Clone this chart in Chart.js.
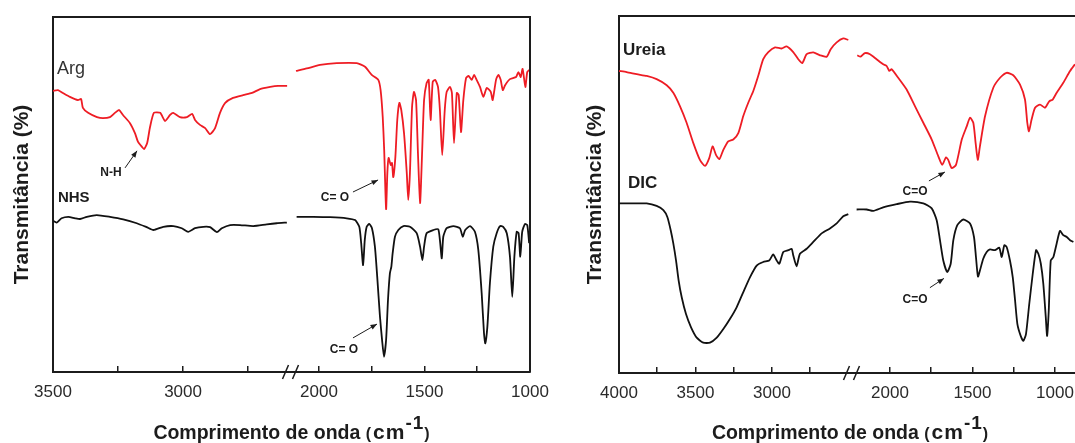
<!DOCTYPE html>
<html lang="pt">
<head>
<meta charset="utf-8">
<script src="https://cdn.jsdelivr.net/npm/chart.js@4.4.0/dist/chart.umd.min.js"></script>
<style>
  html, body { margin: 0; padding: 0; background: #fff; }
  body { width: 1075px; height: 443px; position: relative; overflow: hidden; }
  canvas { position: absolute; top: 0; }
  #grafico-esq { left: 0; }
  #grafico-dir { left: 560px; }
</style>
</head>
<body>
<canvas id="grafico-esq" width="560" height="443"></canvas>
<canvas id="grafico-dir" width="515" height="443"></canvas>
<script>
// --- ESPECTROS FTIR (número de onda em cm-1, transmitância relativa) ---
const argOnda = [3500, 3481, 3462, 3435, 3404, 3392, 3385, 3365, 3331, 3308, 3281, 3262, 3246, 3231, 3204, 3185, 3173, 3158, 3150, 3138, 3127, 3112, 3088, 3069, 3050, 3038, 3012, 2985, 2965, 2954, 2935, 2915, 2896, 2877, 2858, 2838, 2808, 2769, 2735, 2704, 2665, 2635, 2600,
  2109, 2058, 1995, 1916, 1821, 1782, 1750, 1719, 1708, 1698, 1691, 1682, 1676, 1670, 1660, 1654, 1648, 1638, 1629, 1619, 1610, 1597, 1584, 1577, 1569, 1559, 1550, 1540, 1531, 1521, 1512, 1502, 1490, 1480, 1471, 1461, 1449, 1436, 1427, 1416, 1404, 1395, 1379, 1370, 1360, 1347, 1338, 1327, 1316, 1303, 1291, 1276, 1265, 1253, 1237, 1221, 1205, 1186, 1177, 1161, 1150, 1139, 1129, 1118, 1095, 1066, 1055, 1044, 1035, 1022, 1013, 1003];
const argTrans = [79.2, 79.4, 78.6, 77.5, 76.6, 76.9, 74.4, 73.0, 71.8, 71.5, 71.8, 73.0, 73.8, 72.4, 70.1, 67.3, 64.8, 63.4, 62.8, 64.5, 69.0, 73.0, 73.0, 70.7, 72.4, 73.0, 71.8, 71.8, 72.7, 71.0, 69.6, 68.7, 67.0, 68.7, 73.0, 75.8, 77.2, 78.0, 78.6, 79.7, 80.3, 80.6, 80.6,
  84.8, 85.5, 86.5, 87.0, 87.0, 86.0, 83.7, 82.3, 79.4, 71.9, 62.5, 45.9, 56.1, 60.3, 58.3, 58.9, 54.9, 60.6, 71.0, 75.8, 73.8, 67.3, 56.1, 48.5, 56.1, 74.6, 78.9, 76.6, 61.7, 47.6, 60.6, 76.6, 81.4, 82.3, 71.0, 81.7, 82.3, 80.3, 73.8, 61.1, 73.8, 78.9, 80.3, 78.6, 64.5, 78.6, 78.0, 67.6, 76.6, 82.8, 83.4, 82.3, 83.7, 82.3, 80.3, 77.5, 80.0, 78.9, 76.6, 82.3, 83.7, 82.3, 79.4, 80.8, 82.5, 83.1, 84.5, 83.1, 85.4, 80.3, 84.5, 85.1];

const nhsOnda = [3500, 3486, 3467, 3441, 3415, 3396, 3370, 3332, 3281, 3230, 3178, 3140, 3114, 3076, 3037, 3005, 2980, 2954, 2922, 2896, 2870, 2851, 2819, 2781, 2730, 2678, 2640, 2601,
  2106, 2027, 1948, 1869, 1829, 1809, 1800, 1791, 1783, 1774, 1762, 1749, 1735, 1724, 1711, 1701, 1692, 1682, 1673, 1664, 1657, 1651, 1640, 1624, 1600, 1569, 1537, 1521, 1510, 1502, 1490, 1458, 1435, 1427, 1418, 1411, 1395, 1363, 1332, 1319, 1307, 1284, 1261, 1245, 1229, 1218, 1212, 1202, 1190, 1174, 1158, 1142, 1127, 1110, 1095, 1084, 1074, 1063, 1054, 1046, 1037, 1024, 1013, 1004];
const nhsTrans = [42.6, 42.1, 43.3, 43.7, 43.3, 43.1, 43.7, 44.2, 43.7, 43.0, 41.9, 40.8, 40.0, 40.9, 41.1, 40.5, 39.5, 40.5, 40.9, 40.8, 39.4, 40.5, 41.4, 41.4, 41.1, 41.6, 41.9, 42.1,
  43.7, 43.7, 43.6, 43.3, 42.8, 40.9, 36.3, 30.1, 37.2, 40.9, 41.7, 40.5, 35.3, 26.8, 15.6, 9.0, 4.3, 9.0, 20.3, 27.8, 29.7, 33.4, 38.1, 40.0, 41.1, 40.9, 39.1, 35.3, 31.5, 35.3, 39.1, 40.0, 40.2, 37.2, 32.0, 38.1, 40.5, 41.1, 40.5, 38.1, 40.0, 41.1, 39.5, 34.4, 22.2, 10.9, 8.1, 12.8, 25.0, 35.3, 39.1, 41.1, 40.9, 39.1, 32.5, 21.2, 32.5, 39.5, 39.1, 32.5, 39.5, 41.7, 41.4, 36.3];

const ureiaOnda = [4000, 3950, 3884, 3819, 3754, 3688, 3645, 3601, 3558, 3514, 3471, 3438, 3410, 3388, 3366, 3344, 3318, 3286, 3253, 3220, 3188, 3155, 3122, 3090, 3057, 3024, 2980, 2937, 2904, 2861, 2828, 2802, 2773, 2730, 2686, 2642, 2616, 2577, 2534, 2501,
  2198, 2178, 2152, 2121, 2081, 2041, 2020, 2004, 1990, 1950, 1899, 1848, 1798, 1747, 1707, 1683, 1661, 1647, 1626, 1600, 1565, 1535, 1515, 1495, 1481, 1468, 1455, 1424, 1374, 1333, 1293, 1253, 1212, 1182, 1168, 1158, 1142, 1121, 1091, 1061, 1035, 1014, 990, 950, 909, 879];
const ureiaTrans = [84.6, 84.3, 83.7, 83.2, 82.3, 80.6, 78.5, 74.7, 70.1, 64.4, 59.7, 58.0, 60.2, 63.5, 61.1, 59.9, 62.5, 64.9, 65.4, 67.2, 71.9, 75.7, 79.0, 83.2, 87.9, 89.9, 91.2, 90.9, 91.5, 89.9, 87.9, 86.8, 89.3, 89.8, 89.0, 88.6, 90.7, 92.6, 93.7, 93.3,
  89.0, 88.6, 89.6, 89.3, 87.9, 86.5, 86.0, 84.6, 85.1, 82.7, 79.4, 74.7, 70.1, 65.4, 60.7, 58.3, 60.4, 59.7, 57.4, 58.3, 65.4, 69.1, 71.5, 70.1, 64.4, 59.7, 63.5, 71.9, 79.9, 82.7, 84.1, 83.4, 80.8, 76.6, 70.1, 67.7, 71.0, 74.3, 75.2, 74.3, 76.1, 76.6, 78.5, 81.3, 84.6, 86.5];

const dicOnda = [4000, 3907, 3819, 3754, 3710, 3684, 3662, 3645, 3627, 3610, 3590, 3562, 3529, 3492, 3449, 3405, 3361, 3318, 3275, 3231, 3188, 3144, 3100, 3057, 3018, 2992, 2969, 2952, 2926, 2893, 2871, 2861, 2839, 2817, 2773, 2730, 2675, 2621, 2577, 2534, 2501,
  2202, 2141, 2101, 2041, 1959, 1879, 1798, 1747, 1717, 1697, 1677, 1653, 1632, 1616, 1592, 1556, 1515, 1491, 1479, 1467, 1455, 1435, 1414, 1394, 1364, 1338, 1323, 1307, 1293, 1273, 1256, 1242, 1228, 1208, 1192, 1176, 1156, 1135, 1115, 1101, 1086, 1071, 1056, 1048, 1038, 1026, 1010, 990, 970, 950, 929, 909, 889];
const dicTrans = [47.5, 47.5, 47.5, 46.8, 45.6, 43.7, 40.0, 36.3, 31.5, 25.9, 21.2, 16.5, 12.8, 9.9, 8.5, 8.5, 9.9, 12.3, 15.1, 18.4, 22.6, 26.8, 30.1, 31.1, 31.5, 33.2, 31.5, 30.6, 33.9, 34.4, 34.8, 33.0, 29.9, 33.4, 34.8, 36.7, 39.1, 40.5, 41.9, 43.9, 44.5,
  45.8, 45.8, 45.4, 46.4, 47.3, 48.0, 47.5, 46.1, 42.8, 37.2, 31.5, 28.3, 30.6, 37.2, 41.4, 43.0, 41.9, 38.1, 32.5, 27.0, 28.7, 32.0, 33.9, 34.6, 34.4, 35.1, 32.5, 35.8, 35.3, 31.5, 26.8, 20.3, 13.7, 10.4, 9.0, 10.9, 19.4, 27.8, 34.4, 33.4, 30.6, 25.0, 15.6, 10.4, 17.5, 31.5, 32.5, 36.3, 39.8, 38.6, 38.1, 37.2, 36.7];

// --- MARCAS DOS EIXOS (eixo quebrado: trecho alto / trecho baixo) ---
const ticksEsqA = [3500, 3250, 3000, 2750];
const ticksEsqB = [2000, 1750, 1500, 1250, 1000];
const ticksDirA = [4000, 3750, 3500, 3250, 3000, 2750];
const ticksDirB = [2000, 1750, 1500, 1250, 1000];
const rotulosEixo = [4000, 3500, 3000, 2000, 1500, 1000];

// --- ESTILO ---
const COR_VERMELHA = '#ee1c24';
const COR_PRETA = '#111111';
const COR_EIXO = '#1c1c1c';
const FONTE = '"Liberation Sans", Arial, Helvetica, sans-serif';
const ALTURA_EIXO_X = 45;

// --- FUNÇÕES AUXILIARES ---
function pontos(onda, trans, corte, alto) {
    return onda.map((x, i) => ({ x, y: trans[i] }))
        .filter(p => alto ? p.x > corte : p.x <= corte);
}

function serie(onda, trans, corte, cor) {
    const base = { borderColor: cor, borderWidth: 1.8, pointRadius: 0, tension: 0.2, fill: false };
    return [
        { ...base, data: pontos(onda, trans, corte, true), xAxisID: 'xa' },
        { ...base, data: pontos(onda, trans, corte, false), xAxisID: 'xb' }
    ];
}

function eixoX(min, max, peso, marcas) {
    return {
        type: 'linear', position: 'bottom', stack: 'baixo', stackWeight: peso,
        min, max, reverse: true,
        afterBuildTicks: s => { s.ticks = marcas.map(v => ({ value: v })); },
        afterFit: s => { s.height = ALTURA_EIXO_X; s.paddingLeft = 0; s.paddingRight = 0; },
        grid: { display: true, drawOnChartArea: false, drawTicks: true, tickLength: -6, color: COR_EIXO, lineWidth: 1.5 },
        border: { display: true, color: COR_EIXO, width: 2 },
        ticks: {
            autoSkip: false, maxRotation: 0, padding: 16, color: '#2a2a2a',
            font: { family: FONTE, size: 17 },
            callback: v => rotulosEixo.includes(v) ? String(v) : ''
        }
    };
}

function eixoY() {
    return {
        min: 0, max: 100,
        afterFit: s => { s.width = 0; },
        ticks: { display: false },
        grid: { display: false },
        border: { display: true, color: COR_EIXO, width: 2 }
    };
}

function seta(ctx, x1, y1, x2, y2) {
    const ang = Math.atan2(y2 - y1, x2 - x1);
    ctx.beginPath();
    ctx.moveTo(x1, y1);
    ctx.lineTo(x2, y2);
    ctx.stroke();
    ctx.beginPath();
    ctx.moveTo(x2, y2);
    ctx.lineTo(x2 - 7 * Math.cos(ang - 0.38), y2 - 7 * Math.sin(ang - 0.38));
    ctx.lineTo(x2 - 7 * Math.cos(ang + 0.38), y2 - 7 * Math.sin(ang + 0.38));
    ctx.closePath();
    ctx.fill();
}

// moldura, quebra do eixo, títulos e anotações
function criarDecoracao(cfg) {
    return {
        id: 'decoracao',
        afterDraw(chart) {
            const { ctx, chartArea: a, scales } = chart;
            ctx.save();
            ctx.strokeStyle = COR_EIXO;
            ctx.fillStyle = COR_EIXO;
            ctx.lineWidth = 2;
            ctx.beginPath();
            ctx.moveTo(a.left - 1, a.top);
            ctx.lineTo(a.right, a.top);
            if (cfg.bordaDireita) ctx.lineTo(a.right, a.bottom);
            ctx.stroke();

            // sinal de quebra "//"
            const xq = scales.xa.right, yq = a.bottom;
            ctx.lineWidth = 1.5;
            ctx.beginPath();
            ctx.moveTo(xq - 8, yq + 7); ctx.lineTo(xq - 2, yq - 7);
            ctx.moveTo(xq + 2, yq + 7); ctx.lineTo(xq + 8, yq - 7);
            ctx.stroke();

            // título do eixo Y
            ctx.save();
            ctx.translate(cfg.xTituloY, (a.top + a.bottom) / 2);
            ctx.rotate(-Math.PI / 2);
            ctx.font = 'bold 21px ' + FONTE;
            ctx.textAlign = 'center';
            ctx.textBaseline = 'middle';
            ctx.fillText('Transmitância (%)', 0, 0);
            ctx.restore();

            // título do eixo X com expoente
            const partes = [
                { t: 'Comprimento de onda ', f: 'bold 19.5px ', dy: 0, esp: 0 },
                { t: '(', f: 'bold 16px ', dy: 0, esp: 2 },
                { t: 'cm', f: 'bold 21px ', dy: 0, esp: 1 },
                { t: '-1', f: 'bold 19px ', dy: -10, esp: 1 },
                { t: ')', f: 'bold 16px ', dy: 0, esp: 0 }
            ];
            let largura = 0;
            partes.forEach(p => {
                ctx.font = p.f + FONTE;
                p.w = 0;
                for (const ch of p.t) p.w += ctx.measureText(ch).width + p.esp;
                largura += p.w;
            });
            let xt = (a.left + a.right) / 2 + cfg.desvioTituloX - largura / 2;
            ctx.textAlign = 'left';
            ctx.textBaseline = 'alphabetic';
            partes.forEach(p => {
                ctx.font = p.f + FONTE;
                if (p.esp) {
                    for (const ch of p.t) {
                        ctx.fillText(ch, xt, 439 + p.dy);
                        xt += ctx.measureText(ch).width + p.esp;
                    }
                } else {
                    ctx.fillText(p.t, xt, 439 + p.dy);
                    xt += p.w;
                }
            });

            // rótulos das curvas e bandas
            ctx.textBaseline = 'middle';
            cfg.rotulos.forEach(r => {
                ctx.font = r.fonte + FONTE;
                ctx.fillStyle = r.cor || COR_EIXO;
                ctx.textAlign = r.alinhar || 'left';
                ctx.fillText(r.texto, scales[r.eixo].getPixelForValue(r.x), scales.y.getPixelForValue(r.y));
            });
            ctx.lineWidth = 1;
            ctx.strokeStyle = COR_EIXO;
            ctx.fillStyle = COR_EIXO;
            cfg.setas.forEach(s => {
                const e = scales[s.eixo];
                seta(ctx, e.getPixelForValue(s.de[0]), scales.y.getPixelForValue(s.de[1]),
                    e.getPixelForValue(s.ate[0]), scales.y.getPixelForValue(s.ate[1]));
            });
            ctx.restore();
        }
    };
}

function criarGrafico(id, conjuntos, escalas, padding, decoracao) {
    return new Chart(document.getElementById(id), {
        type: 'line',
        data: { datasets: conjuntos },
        options: {
            responsive: false,
            animation: false,
            events: [],
            layout: { padding },
            plugins: { legend: { display: false }, tooltip: { enabled: false } },
            scales: escalas
        },
        plugins: [criarDecoracao(decoracao)]
    });
}

// --- PAINEL ESQUERDO: Arg e NHS ---
criarGrafico('grafico-esq',
    [...serie(argOnda, argTrans, 2400, COR_VERMELHA), ...serie(nhsOnda, nhsTrans, 2400, COR_PRETA)],
    { xa: eixoX(2587, 3500, 237.5, ticksEsqA), xb: eixoX(1000, 2135, 239.5, ticksEsqB), y: eixoY() },
    { left: 53, right: 30, top: 17, bottom: 71 - ALTURA_EIXO_X },
    {
        bordaDireita: true, xTituloY: 22, desvioTituloX: 0,
        rotulos: [
            { texto: 'Arg', eixo: 'xa', x: 3485, y: 85.4, fonte: '18px ', cor: '#333' },
            { texto: 'NHS', eixo: 'xa', x: 3481, y: 49.0, fonte: 'bold 15px ' },
            { texto: 'N-H', eixo: 'xa', x: 3277, y: 56.1, fonte: 'bold 12px ', alinhar: 'center' },
            { texto: 'C= O', eixo: 'xb', x: 1924, y: 49.0, fonte: 'bold 12px ', alinhar: 'center' },
            { texto: 'C= O', eixo: 'xb', x: 1882, y: 6.2, fonte: 'bold 12px ', alinhar: 'center' }
        ],
        setas: [
            { eixo: 'xa', de: [3223, 57.5], ate: [3177, 62.3] },
            { eixo: 'xb', de: [1839, 50.7], ate: [1720, 54.1] },
            { eixo: 'xb', de: [1839, 9.6], ate: [1725, 13.5] }
        ]
    });

// --- PAINEL DIREITO: Ureia e DIC ---
criarGrafico('grafico-dir',
    [...serie(ureiaOnda, ureiaTrans, 2350, COR_VERMELHA), ...serie(dicOnda, dicTrans, 2350, COR_PRETA)],
    { xa: eixoX(2480, 4000, 232.5, ticksDirA), xb: eixoX(879, 2233, 223.5, ticksDirB), y: eixoY() },
    { left: 59, right: 0, top: 16, bottom: 70 - ALTURA_EIXO_X },
    {
        bordaDireita: false, xTituloY: 35, desvioTituloX: 3,
        rotulos: [
            { texto: 'Ureia', eixo: 'xa', x: 3974, y: 90.4, fonte: 'bold 17px ' },
            { texto: 'DIC', eixo: 'xa', x: 3941, y: 53.0, fonte: 'bold 17px ' },
            { texto: 'C=O', eixo: 'xb', x: 1848, y: 50.7, fonte: 'bold 12px ', alinhar: 'center' },
            { texto: 'C=O', eixo: 'xb', x: 1848, y: 20.6, fonte: 'bold 12px ', alinhar: 'center' }
        ],
        setas: [
            { eixo: 'xb', de: [1764, 53.8], ate: [1667, 56.3] },
            { eixo: 'xb', de: [1758, 23.9], ate: [1673, 26.5] }
        ]
    });
</script>
</body>
</html>
